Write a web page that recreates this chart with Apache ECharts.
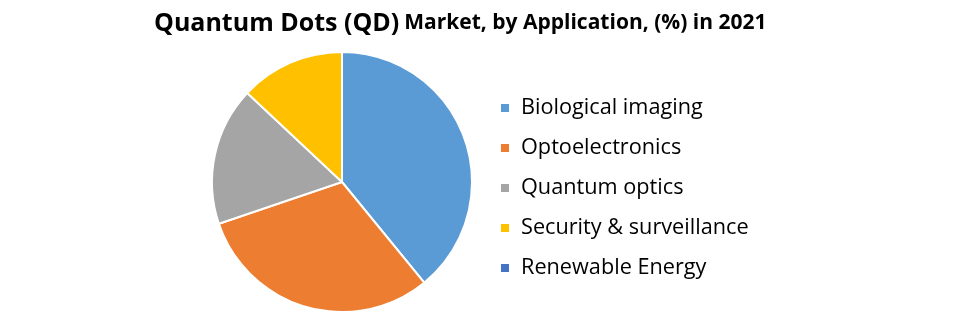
<!DOCTYPE html>
<html><head><meta charset="utf-8">
<script src="https://cdn.jsdelivr.net/npm/echarts@6/dist/echarts.min.js"></script>
<style>html,body{margin:0;padding:0;background:#fff}#c{width:977px;height:313px}</style>
</head><body><div id="c"></div>
<script>
const categories = ["Biological imaging", "Optoelectronics", "Quantum optics", "Security & surveillance", "Renewable Energy"];
const shares = [39.1, 30.7, 17.2, 13.0, 0];
const colors = ["#5B9BD5", "#ED7D31", "#A5A5A5", "#FFC000", "#4472C4"];

const chart = echarts.init(document.getElementById('c'));
chart.setOption({
  animation: false,
  color: colors,
  title: {
    text: '{a|Quantum Dots (QD)} {b|Market, by Application, (%) in 2021}',
    left: 149, top: 6,
    textStyle: {
      rich: {
        a: {fontFamily: 'Open Sans', fontWeight: 'bold', fontSize: 25, color: '#000'},
        b: {fontFamily: 'Open Sans', fontWeight: 'bold', fontSize: 21, color: '#000'}
      }
    }
  },
  legend: {
    orient: 'vertical',
    left: 494, top: 92,
    icon: 'rect', itemWidth: 10, itemHeight: 10, itemGap: 18,
    textStyle: {fontFamily: 'Open Sans', fontSize: 21.7, lineHeight: 22, color: '#000', padding: [0,0,0,6]},
    data: categories
  },
  series: [{
    type: 'pie',
    center: [342, 182],
    radius: 130,
    startAngle: 90,
    clockwise: true,
    label: {show: false},
    labelLine: {show: false},
    itemStyle: {borderColor: '#fff', borderWidth: 2},
    emphasis: {disabled: true},
    data: categories.map((n, i) => ({name: n, value: shares[i]}))
  }]
});
</script></body></html>
